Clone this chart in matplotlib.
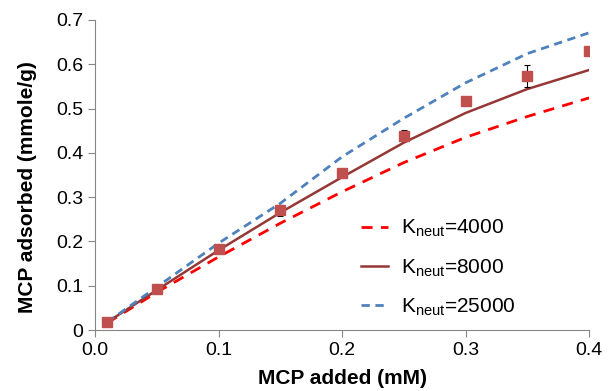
import matplotlib
matplotlib.use('Agg')
import matplotlib.pyplot as plt
from matplotlib.ticker import FuncFormatter

# measured data
x_meas = [0.01, 0.05, 0.10, 0.15, 0.20, 0.25, 0.30, 0.35, 0.40]
y_meas = [0.018, 0.093, 0.183, 0.270, 0.354, 0.439, 0.517, 0.573, 0.630]
y_err = [0, 0, 0, 0.013, 0, 0.013, 0, 0.025, 0]

# model curves
x_model = [0.01, 0.05, 0.10, 0.15, 0.20, 0.25, 0.30, 0.35, 0.40]
k4000 = [0.016, 0.085, 0.165, 0.241, 0.312, 0.378, 0.435, 0.482, 0.524]
k8000 = [0.018, 0.090, 0.180, 0.265, 0.345, 0.423, 0.490, 0.544, 0.587]
k25000 = [0.018, 0.097, 0.196, 0.286, 0.391, 0.478, 0.558, 0.624, 0.671]

plt.rcParams['font.family'] = ['Liberation Sans', 'DejaVu Sans']
plt.rcParams['mathtext.fontset'] = 'custom'
plt.rcParams['mathtext.rm'] = 'Liberation Sans'

fig = plt.figure(figsize=(6.13, 3.91), dpi=100)
ax = fig.add_axes([0.155, 0.156, 0.806, 0.793])

ax.plot(x_model, k4000, color='#FF0000', lw=2, dashes=(4, 3), label=r'K$_{\mathregular{neut}}$=4000')
ax.plot(x_model, k8000, color='#953735', lw=1.8, label=r'K$_{\mathregular{neut}}$=8000')
ax.plot(x_model, k25000, color='#4F81BD', lw=2, dashes=(3, 2), label=r'K$_{\mathregular{neut}}$=25000')
ax.errorbar(x_meas, y_meas, yerr=y_err, fmt='s', color='#C0504D', ms=6.5,
            ecolor='black', elinewidth=0.8, capsize=2.5, capthick=0.8, zorder=5)

ax.set_xlim(0, 0.4)
ax.set_ylim(0, 0.7)
ax.set_xticks([0, 0.1, 0.2, 0.3, 0.4])
ax.set_yticks([0, 0.1, 0.2, 0.3, 0.4, 0.5, 0.6, 0.7])
ax.xaxis.set_major_formatter(FuncFormatter(lambda v, p: '%.1f' % v))
ax.yaxis.set_major_formatter(FuncFormatter(lambda v, p: '0' if v == 0 else '%.1f' % v))
ax.tick_params(labelsize=14, color='#868686', length=5)
for s in ['top', 'right']:
  ax.spines[s].set_visible(False)
for s in ['left', 'bottom']:
  ax.spines[s].set_color('#868686')

ax.set_xlabel('MCP added (mM)', fontsize=15, fontweight='bold')
ax.set_ylabel('MCP adsorbed (mmole/g)', fontsize=15, fontweight='bold')
ax.xaxis.set_label_coords(0.5, -0.125)
ax.yaxis.set_label_coords(-0.117, 0.46)

ax.legend(loc='center left', bbox_to_anchor=(0.5, 0.2), frameon=False, fontsize=15,
          handlelength=1.3, labelspacing=0.85, handletextpad=0.65)

fig.savefig('out.png', dpi=100)
